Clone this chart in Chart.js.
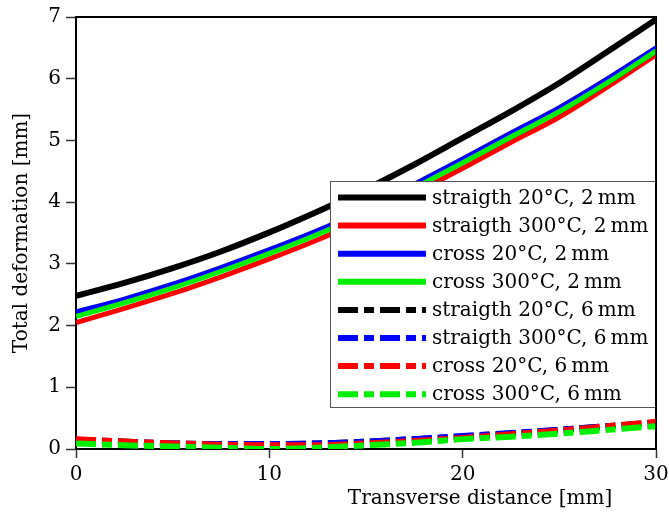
<!DOCTYPE html>
<html>
<head>
<meta charset="utf-8">
<script src="https://cdn.jsdelivr.net/npm/chart.js@4.4.0/dist/chart.umd.min.js"></script>
<style>
    html, body { margin: 0; padding: 0; background: #fff; }
    #wrap { width: 669px; height: 513px; }
</style>
</head>
<body>
<div id="wrap"><canvas id="chart" width="669" height="513"></canvas></div>
<script>
// --- Data ---------------------------------------------------------------

const distances = [0, 2.5, 5, 7.5, 10, 12.5, 15, 17.5, 20, 22.5, 25, 27.5, 30];

// 2 mm
const straight20_2mm  = [2.48, 2.69, 2.93, 3.20, 3.51, 3.85, 4.21, 4.61, 5.04, 5.47, 5.93, 6.44, 6.96];
const straight300_2mm = [2.05, 2.28, 2.52, 2.79, 3.08, 3.39, 3.74, 4.14, 4.55, 4.97, 5.38, 5.87, 6.39];
const cross20_2mm     = [2.22, 2.43, 2.67, 2.94, 3.23, 3.54, 3.89, 4.29, 4.70, 5.12, 5.53, 6.00, 6.50];
const cross300_2mm    = [2.15, 2.37, 2.61, 2.88, 3.17, 3.48, 3.83, 4.23, 4.64, 5.06, 5.47, 5.94, 6.45];

// 6 mm
const straight20_6mm  = [0.15, 0.12, 0.09, 0.08, 0.08, 0.09, 0.12, 0.16, 0.20, 0.25, 0.31, 0.37, 0.43];
const straight300_6mm = [0.14, 0.11, 0.09, 0.08, 0.08, 0.09, 0.12, 0.16, 0.21, 0.26, 0.31, 0.37, 0.42];
const cross20_6mm     = [0.16, 0.12, 0.09, 0.07, 0.06, 0.06, 0.09, 0.13, 0.18, 0.24, 0.30, 0.37, 0.44];
const cross300_6mm    = [0.09, 0.06, 0.04, 0.02, 0.00, 0.02, 0.06, 0.10, 0.16, 0.20, 0.25, 0.31, 0.37];

const seriesLabels = [
    'straigth 20°C, 2\u2009mm',
    'straigth 300°C, 2\u2009mm',
    'cross 20°C, 2\u2009mm',
    'cross 300°C, 2\u2009mm',
    'straigth 20°C, 6\u2009mm',
    'straigth 300°C, 6\u2009mm',
    'cross 20°C, 6\u2009mm',
    'cross 300°C, 6\u2009mm',
];
const seriesValues = [
    straight20_2mm, straight300_2mm, cross20_2mm, cross300_2mm,
    straight20_6mm, straight300_6mm, cross20_6mm, cross300_6mm,
];
const seriesColors = ['#000000', '#ff0000', '#0000ff', '#00ee00', '#000000', '#0000ff', '#ff0000', '#00ee00'];
const seriesDashed = [false, false, false, false, true, true, true, true];

const xTicks = [0, 10, 20, 30];
const yTicks = [0, 1, 2, 3, 4, 5, 6, 7];

// --- Styling ---------------------------------------------------------------

const FONT = '"DejaVu Serif", "Liberation Serif", serif';
const DASH = [20, 6, 10, 6];

// --- Plugins ---------------------------------------------------------------

// Top/right frame, legend box inside the plot, axis titles
const decorPlugin = {
    id: 'decor',
    afterDatasetsDraw(chart) {
        const ctx = chart.ctx;
        const area = chart.chartArea;

        // legend
        const boxX = 330, boxY = 181;
        const boxW = area.right - boxX, boxH = 227;
        ctx.save();
        ctx.fillStyle = '#fff';
        ctx.fillRect(boxX, boxY, boxW, boxH);
        ctx.strokeStyle = '#555';
        ctx.lineWidth = 1;
        ctx.strokeRect(boxX + 0.5, boxY + 0.5, boxW - 1, boxH - 1);

        ctx.font = '20px ' + FONT;
        ctx.textBaseline = 'middle';
        ctx.textAlign = 'left';
        chart.data.datasets.forEach((ds, i) => {
            const y = 197.5 + i * 28.1;
            ctx.beginPath();
            ctx.setLineDash(ds.borderDash || []);
            ctx.lineWidth = 6;
            ctx.strokeStyle = ds.borderColor;
            ctx.moveTo(338, y);
            ctx.lineTo(426, y);
            ctx.stroke();
            ctx.setLineDash([]);
            ctx.fillStyle = '#000';
            ctx.fillText(ds.label, 432, y + 1);
        });
        ctx.restore();
    },
    afterDraw(chart) {
        const ctx = chart.ctx;
        const area = chart.chartArea;
        ctx.save();

        // top and right frame
        ctx.strokeStyle = '#000';
        ctx.lineWidth = 2;
        ctx.beginPath();
        ctx.moveTo(area.left, area.top);
        ctx.lineTo(area.right, area.top);
        ctx.lineTo(area.right, area.bottom);
        ctx.stroke();

        // axis titles
        ctx.fillStyle = '#000';
        ctx.font = '20px ' + FONT;
        ctx.textAlign = 'center';
        ctx.textBaseline = 'middle';
        ctx.fillText('Transverse distance [mm]', 480, 499);

        ctx.translate(22, (area.top + area.bottom) / 2);
        ctx.rotate(-Math.PI / 2);
        ctx.fillText('Total deformation [mm]', 0, 0);
        ctx.restore();
    },
};

// --- Chart -----------------------------------------------------------------

const datasets = seriesValues.map((vals, i) => ({
    label: seriesLabels[i],
    data: vals.map((v, j) => ({ x: distances[j], y: v })),
    borderColor: seriesColors[i],
    backgroundColor: seriesColors[i],
    borderWidth: i === 0 ? 6 : (seriesDashed[i] ? 6 : 5),
    borderDash: seriesDashed[i] ? DASH : [],
    borderCapStyle: 'butt',
    pointRadius: 0,
    tension: 0.4,
    cubicInterpolationMode: 'monotone',
    fill: false,
    order: seriesValues.length - i,
}));

function axisTicks(values) {
    return (scale) => {
        scale.ticks = values.map((v) => ({ value: v }));
    };
}

new Chart(document.getElementById('chart'), {
    type: 'line',
    data: { datasets },
    options: {
        responsive: false,
        animation: false,
        devicePixelRatio: 1,
        layout: { padding: { top: 17, right: 13, left: 0, bottom: 0 } },
        plugins: {
            legend: { display: false },
            tooltip: { enabled: false },
        },
        scales: {
            x: {
                type: 'linear',
                min: 0,
                max: 30,
                afterBuildTicks: axisTicks(xTicks),
                afterFit: (scale) => {
                    scale.height = 64;
                    scale.paddingLeft = 0;
                    scale.paddingRight = 0;
                },
                ticks: { color: '#000', font: { family: FONT, size: 20 }, padding: 5 },
                grid: { drawOnChartArea: false, drawTicks: true, tickLength: 9, tickColor: '#333', tickWidth: 1.5 },
                border: { display: true, color: '#000', width: 2 },
            },
            y: {
                type: 'linear',
                min: 0,
                max: 7,
                afterBuildTicks: axisTicks(yTicks),
                afterFit: (scale) => {
                    scale.width = 76;
                    scale.paddingTop = 0;
                    scale.paddingBottom = 0;
                },
                ticks: { color: '#000', font: { family: FONT, size: 20 }, padding: 5 },
                grid: { drawOnChartArea: false, drawTicks: true, tickLength: 10, tickColor: '#333', tickWidth: 1.5 },
                border: { display: true, color: '#000', width: 2 },
            },
        },
    },
    plugins: [decorPlugin],
});
</script>
</body>
</html>
